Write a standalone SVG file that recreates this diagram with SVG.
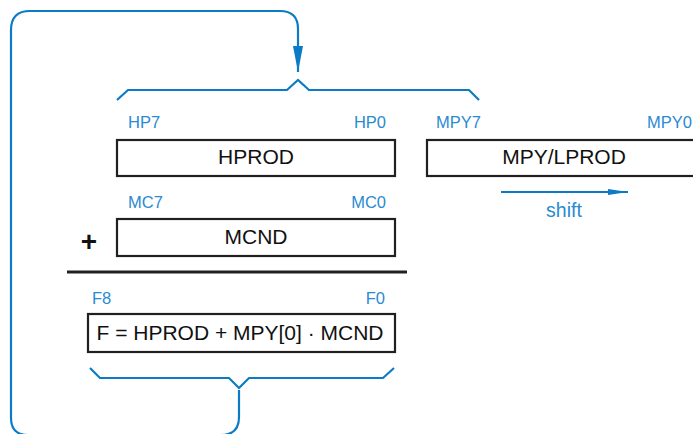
<svg xmlns="http://www.w3.org/2000/svg" width="693" height="434" viewBox="0 0 693 434">
<defs>
<style>
.lbl{font-family:"Liberation Sans",Arial,sans-serif;font-size:16.5px;fill:#2a8ad2}
.reg{font-family:"Liberation Sans",Arial,sans-serif;font-size:21px;fill:#111}
.box{fill:#fff;stroke:#231f20;stroke-width:2.2}
.wire{fill:none;stroke:#0b7bc6;stroke-width:2.2;stroke-linejoin:miter}
</style>
<marker id="ah" markerWidth="26" markerHeight="12" refX="26" refY="6" orient="auto" markerUnits="userSpaceOnUse">
<path d="M0,1 L26,6 L0,11 Z" fill="#0b7bc6"/>
</marker>
<marker id="ah2" markerWidth="20" markerHeight="8" refX="20" refY="4" orient="auto" markerUnits="userSpaceOnUse">
<path d="M0,1 L20,4 L0,7 Z" fill="#0b7bc6"/>
</marker>
</defs>
<rect width="693" height="434" fill="#fff"/>
<g id="connectors">
<path class="wire" d="M239,390 V417 Q239,435 221,435 H28 Q11,435 11,418 V30 Q11,11 30,11 H280 Q298,11 298,29 V72" marker-end="url(#ah)"/>
<path class="wire" d="M117,100 L128,90 H287 L298,80 L309,90 H469 L479,100"/>
<path class="wire" d="M90,368 L100,378 H229 L239,388 L249,378 H383 L394,368"/>
<path class="wire" stroke-width="1.8" d="M501,192 H628" marker-end="url(#ah2)"/>
<line x1="67" y1="272" x2="407" y2="272" stroke="#231f20" stroke-width="3"/>
</g>
<g id="hprod">
<rect class="box" x="117" y="140" width="278" height="36"/>
<text class="reg" x="256" y="164" text-anchor="middle">HPROD</text>
<text class="lbl" x="128" y="128">HP7</text>
<text class="lbl" x="386" y="128" text-anchor="end">HP0</text>
</g>
<g id="mpy">
<rect class="box" x="427" y="140" width="280" height="36"/>
<text class="reg" x="564" y="164" text-anchor="middle">MPY/LPROD</text>
<text class="lbl" x="436" y="128">MPY7</text>
<text class="lbl" x="692" y="128" text-anchor="end">MPY0</text>
<text class="lbl" x="564" y="217" text-anchor="middle" style="font-size:19.5px">shift</text>
</g>
<g id="mcnd">
<rect class="box" x="117" y="219" width="278" height="37"/>
<text class="reg" x="256" y="244" text-anchor="middle">MCND</text>
<text class="lbl" x="128" y="208">MC7</text>
<text class="lbl" x="386" y="208" text-anchor="end">MC0</text>
<text x="89" y="251" text-anchor="middle" style="font-family:'Liberation Sans',Arial,sans-serif;font-size:28px;font-weight:bold;fill:#111">+</text>
</g>
<g id="f">
<rect class="box" x="88" y="314" width="307" height="38"/>
<text class="reg" x="240" y="340" text-anchor="middle" textLength="287" lengthAdjust="spacingAndGlyphs">F = HPROD + MPY[0] · MCND</text>
<text class="lbl" x="92" y="304">F8</text>
<text class="lbl" x="385" y="304" text-anchor="end">F0</text>
</g>
</svg>
